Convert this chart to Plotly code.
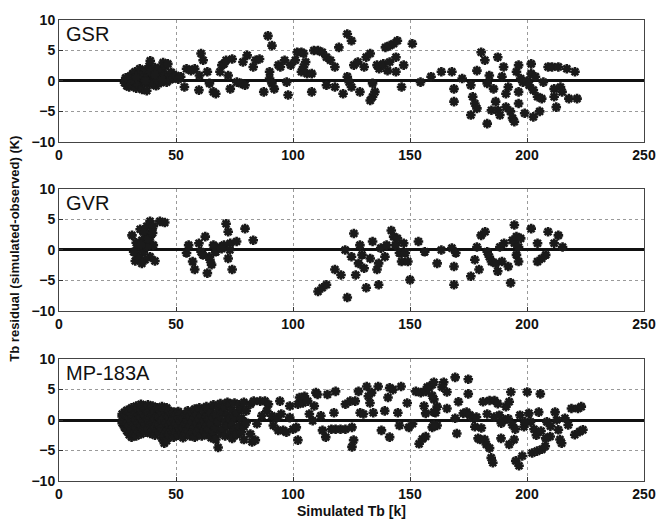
import plotly.graph_objects as go
from plotly.subplots import make_subplots

# ---------------- GSR residuals ----------------
gsr_x = [28, 28.5, 29, 29.5, 30, 30.5, 31, 31.5, 32, 32.5, 33, 33.5, 34, 34.5, 35, 35.5,
         36, 36.5, 37, 37.5, 38, 38.5, 39, 39.5, 40, 40.5, 41, 41.5, 42, 42.5, 43, 43.5,
         44, 44.5, 45, 45.5, 46, 46.5, 47, 47.5, 48, 49, 50, 51, 52,
         36, 38, 40, 42, 34, 33, 37, 39, 41, 44,
         53.6, 54.5, 56.4, 58, 60, 60.7, 61.6, 59.8, 63.4, 64.3, 66, 67, 68.8, 69.6,
         70.5, 71.4, 72.3, 73.2, 74, 76, 77.7, 78.6, 79.5, 80.4, 83, 84, 85.7, 87.5,
         89.3, 90, 90, 91, 91, 92, 93.8, 94.6, 96.4, 97.3, 97.9, 99, 101, 101.8,
         103.6, 104.5, 105.4, 103.6, 104.5, 106, 108, 108, 108.9, 110.7, 112.5,
         114.3, 114.3, 116, 117.9, 117.9, 119.6, 121.4, 123.2, 124, 123.2, 125, 125,
         126, 127.7, 128.6, 130.4, 131.3, 133, 134, 135, 134, 133, 135.9, 136.8,
         138.6, 139.5, 140.4, 141.3, 141.3, 143, 144, 144, 144.6, 146.4, 147.3, 151,
         154.5, 159, 163.4, 167.9, 168.8, 168.8, 172.3, 176, 176, 176.8, 177.7,
         178.6, 178.6, 180.4, 182, 183, 183, 183.9, 184.8, 185.7, 186.6, 187.5,
         188.4, 187.5, 189.3, 190, 191, 192, 191, 192.9, 193.8, 194.6, 195.5,
         196.4, 196.4, 196.4, 197.3, 198.2, 199, 200, 200.9, 201.8, 201.8, 202.7,
         202.7, 203.6, 204.5, 205.4, 206.3, 207, 209, 210.7, 211.6, 211.6, 212.5,
         213.4, 214.3, 215, 217, 217.9, 220.5, 221.4]
gsr_y = [-0.3, 0.5, -0.8, 0.2, -1.0, 0.8, -0.5, 1.2, 0.0, 1.5, -1.2, 0.6, -0.6, 2.0, 0.3, -1.4,
         1.0, -0.2, 1.8, -1.6, 0.7, 2.4, 3.3, -0.5, 1.3, 0.2, 2.2, -0.8, 1.0, 2.0, 0.4, -0.3,
         1.6, 3.0, 0.8, 2.4, -0.2, 2.8, 1.0, 0.2, 1.4, 0.5, 0.9, 0.3, 0.7,
         0.5, -0.3, -0.4, 0.2, 1.0, 0.6, 0.0, 1.5, 1.0, 0.2,
         -1.0, 2.0, 1.7, 2.0, 0.9, 4.5, 3.4, -1.5, 1.5, -0.4, -1.8, -2.1, 1.5, 2.6,
         2.8, 3.4, 0.9, -1.3, 3.6, -0.2, -0.4, 3.1, -0.7, 4.2, 2.3, 3.4, 3.6, -1.8,
         7.4, 1.5, 0.4, -0.4, 5.8, -1.3, 2.6, 2.3, 3.4, -0.2, -2.3, 2.6, 3.4, 4.7,
         4.7, 4.5, 3.1, 1.5, 2.3, 1.2, 1.2, -1.8, 5.0, 5.0, 4.7,
         3.9, -0.7, 3.4, 2.3, -1.0, 5.5, -2.1, 0.7, -0.2, 7.7, 6.6, -1.0,
         2.6, 3.1, -1.8, 2.3, 3.9, 4.5, -2.6, -1.8, -0.4, -3.2, 2.6, 2.0,
         2.8, 5.5, 1.7, 3.1, 5.8, 6.1, 3.9, 1.5, 6.6, -1.0, 2.6, 6.1,
         -0.2, 0.7, 1.5, 1.5, -1.3, -3.4, 0.4, -0.7, -5.6, -2.6, -3.7,
         -4.5, 1.7, 4.7, 3.4, -7.0, -0.4, 0.9, -4.8, -1.3, -3.4, -4.8,
         -5.6, 3.9, 0.7, 2.3, -2.1, -1.0, -4.3, -5.0, -6.1, -6.7, 1.5,
         2.6, -1.8, -3.7, 0.4, -0.2, -5.3, 0.0, -0.7, 1.2, 2.8, -1.5,
         -5.9, 0.7, -2.6, -5.0, -2.9, -0.2, 2.3, 2.3, -1.3, -2.6, -4.3,
         2.3, -1.0, -1.8, 2.0, -2.9, 1.5, -2.9]

# ---------------- GVR residuals ----------------
gvr_x = [31.2, 32.6, 33.3, 34, 34.7, 35.4, 36.1, 36.8, 37.5, 38.2, 38.9, 39.6, 40.3,
         41, 40.3, 43.1, 45.2, 38.9, 34, 31.9, 36.8, 35.4, 33, 37.5, 39, 35, 38, 40, 36,
         54.5, 55.4, 57.1, 58, 59.8, 60.7, 62.5, 63.4, 64.3, 65.2, 66, 67, 68.8, 70.5,
         71.4, 72.3, 72.3, 73.2, 74, 75.9, 79.5, 83, 73, 61.5, 69.5, 64.5,
         110.7, 112.5, 114.3, 117.9, 120.5, 122.3, 123.2, 126, 125, 126.8, 128, 128.6,
         129.5, 130.4, 131.3, 133, 134, 135.9, 136.6, 136.6, 137.5, 139.3, 140, 142,
         143, 143.8, 144.6, 145.5, 146.4, 147.3, 148, 149.1, 150, 153.6, 156.3,
         161.6, 163.4, 167.9, 168.8, 168.8, 169.6, 176, 177.7, 178.6, 179.5, 180.4,
         182.1, 183, 183.9, 184.8, 186.6, 187.5, 188.4, 189.3, 190.2, 192, 193, 193.8,
         194.6, 194.6, 195.5, 195.5, 196.4, 197.3, 196.4, 201.8, 204.5, 204.5, 206.3,
         208, 209, 211.6, 213.4, 215.2]
gvr_y = [2.4, -1.8, -0.8, 0.5, 3.4, 1.6, -0.3, 2.6, 3.9, 1.1, 4.7, 3.2, 0.8,
         -1.8, 3.9, 4.7, 4.5, -1.1, -1.3, -0.3, -1.6, -2.2, 1.2, 0.6, 2.2, 0.9, 1.8, 2.8, 3.0,
         -0.5, 0.8, -1.9, -3.2, 1.1, -0.3, 2.2, -3.8, -1.1, -2.4, 0.8, -0.3, 0.5, 0.8,
         4.3, 3.0, -1.4, 1.1, -3.2, 1.4, 3.5, 1.6, 0.0, -0.8, 0.2, -1.6,
         -6.8, -6.2, -5.7, -3.2, -4.1, 0.0, -7.8, 2.7, -1.1, -4.1, -2.2, 0.8,
         -0.8, -3.0, -6.2, -1.4, 1.4, -3.2, -5.7, -2.2, 0.3, -1.1, 0.8, 3.2,
         2.2, 0.8, 1.9, -0.5, -1.9, 1.1, -0.5, -1.9, -4.9, 1.4, -0.3,
         -2.2, 0.0, 0.3, -2.7, -5.7, -0.5, -4.3, -1.6, 0.5, -3.2, 2.4,
         3.0, -0.3, -1.1, -1.9, -2.2, -3.5, 0.5, -1.9, 1.1, -2.7, -5.4, 1.6,
         4.1, 1.1, 2.2, -0.8, 0.5, 1.9, -1.9, 3.5, 1.1, -1.9, -1.4,
         -0.8, 3.0, 1.1, 2.4, 0.5]

# ---------------- MP-183A residuals ----------------
mp_x = [27, 27, 27,
        28, 28, 28, 28,
        29, 29, 29, 29,
        30, 30, 30, 30,
        31, 31, 31, 31, 31,
        32, 32, 32, 32,
        33, 33, 33, 33, 33,
        34, 34, 34, 34,
        35, 35, 35, 35, 35,
        36, 36, 36, 36,
        37, 37, 37, 37,
        38, 38, 38, 38,
        39, 39, 39, 39,
        40, 40, 40, 40,
        41, 41, 41, 41,
        42, 42, 42, 42,
        43, 43, 43, 43,
        44, 44, 44, 44, 44,
        45, 45, 45, 45, 45,
        46, 46, 46, 46, 46,
        47, 47, 47, 47,
        48, 48, 48,
        49, 49, 49, 49,
        50, 50, 50,
        51, 51, 51, 51,
        52, 52, 52,
        53, 53, 53,
        54, 54, 54,
        55, 55, 55,
        56, 56, 56,
        57, 57, 57,
        58, 58, 58, 58,
        59, 59, 59,
        60, 60, 60,
        61, 61, 61,
        62, 62, 62,
        63, 63, 63, 63,
        64, 64, 64,
        65, 65, 65,
        66, 66, 66,
        67, 67, 67,
        68, 68, 68,
        69, 69, 69,
        70, 70,
        71, 71, 71,
        72, 72, 72,
        73, 73, 73,
        74, 74, 74,
        75, 75, 75,
        76, 76,
        77, 77,
        78, 78, 78,
        79, 79, 79,
        80, 80,
        81.8, 83.2, 82.5, 83.9, 86, 88, 89.5, 88.8, 86.7, 84.6, 81.8, 90.9, 91.6, 93,
        94.4, 93.7, 95, 95.8, 97.2, 98.6, 98.6, 100, 101.4, 102.1, 102.1, 102.8, 104.2,
        104.9, 106.3, 107, 108.4, 109.1, 109.8, 110.5, 111.9, 112.6, 114, 114.7, 116.4,
        118.2, 117.5, 118.2, 120.3, 122.4, 122.4, 124.5, 125.2, 125.9, 125.2, 126.6,
        128, 128.7, 130.1, 131.5, 132.2, 132.9, 133.6, 134.3, 136.4, 137.8, 139.2,
        140.6, 141.3, 141.3, 142.7, 144.8, 146.2, 145.5, 148.8, 149.5, 151.1, 152.5,
        153.9, 155.3, 154.6, 156.7, 156, 158.1, 159.5, 160.2, 160.9, 159.5, 161.6,
        157.4, 160.2, 164.4, 169.3, 174.9, 174.9, 165.8, 163.7, 159.5, 161.6, 160.2,
        156.7, 160.2, 156.7, 165.8, 169.3, 170, 170.7, 172.8, 174.2, 175.6, 177,
        178.4, 177.7, 179.1, 180.5, 181.2, 181.9, 182.6, 184, 184, 184.7, 185.4,
        186.1, 187.5, 188.2, 188.9, 190.3, 191, 192.4, 193.1, 193.8, 194.5, 195.2,
        196.6, 198, 198.7, 200.1, 200.8, 201.5, 202.2, 204.3, 205, 205.7, 206.4,
        207.8, 208.5, 209.9, 212, 212.7, 213.4, 214.1, 214.8, 216.2, 217.6, 219,
        220.4, 221.8, 223.2, 222.5, 223.9,
        186, 189, 192, 195, 197, 199, 203, 204, 206, 208, 210, 180, 192.4, 183]
mp_y = [-0.5, 0.6, 1.0,
        -1.2, 0.2, 1.3, -0.3,
        -1.8, -0.6, 0.8, 1.6,
        -2.4, -1.0, 0.3, 1.4,
        -2.8, -1.5, -0.2, 1.0, 2.0,
        -2.2, -0.8, 0.5, 1.7,
        -2.6, -1.3, 0.0, 1.2, 2.3,
        -1.9, -0.5, 0.9, 2.0,
        -2.3, -1.0, 0.4, 1.6, 2.6,
        -1.6, -0.2, 1.1, 2.2,
        -2.0, -0.7, 0.6, 1.9,
        -1.4, 0.1, 1.4, 2.5,
        -2.2, -0.9, 0.3, 1.7,
        -1.7, -0.4, 0.9, 2.3,
        -2.5, -1.1, 0.2, 1.5,
        -1.8, -0.6, 0.7, 2.0,
        -2.1, -0.8, 0.5, 1.8,
        -3.0, -1.4, -0.1, 1.2, 2.2,
        -3.8, -2.6, -1.0, 0.4, 1.6,
        -3.4, -1.9, -0.5, 0.9, 2.0,
        -2.4, -0.8, 0.6, 1.5,
        -1.6, -0.3, 1.1,
        -2.8, -1.2, 0.2, 1.3,
        -2.0, -0.7, 0.8,
        -2.5, -1.0, 0.4, 1.4,
        -1.7, -0.2, 1.0,
        -2.9, -1.3, 0.3,
        -2.2, -0.6, 0.9,
        -1.5, 0.0, 1.5,
        -2.6, -1.0, 0.6,
        -1.9, -0.3, 1.3,
        -2.8, -1.2, 0.4, 1.8,
        -2.0, -0.5, 1.0,
        -1.4, 0.2, 2.0,
        -2.6, -0.9, 0.7,
        -1.8, -0.2, 1.5,
        -2.4, -1.1, 0.5, 2.2,
        -1.5, 0.1, 1.8,
        -2.9, -0.6, 1.2,
        -2.0, 0.4, 2.5,
        -3.2, -1.3, 0.9,
        -4.5, -0.3, 1.9,
        -2.2, 0.6, 2.7,
        -1.4, 1.3,
        -2.6, -0.4, 2.1,
        -1.0, 0.9, 2.9,
        -2.2, 0.2, 2.4,
        -3.0, -0.8, 1.6,
        -1.6, 0.5, 2.8,
        -2.4, 1.2,
        -0.9, 2.5,
        -2.0, 0.3, 1.8,
        -3.2, -1.1, 2.9,
        -0.4, 1.5,
        2.6, 3.1, -3.6, -3.3, 3.1, 3.1, 2.6, 1.5, 0.7, -0.6, -2.3, 0.7, -0.9, 0.4,
        3.1, -1.7, 1.0, -1.7, -2.0, 2.3, 0.4, -1.5, -1.2, -3.3, 2.6, 3.7, 2.8,
        3.9, 3.1, 1.0, -0.1, 2.3, 4.5, 4.2, 0.7, -1.7, -2.8, 4.2, -1.5,
        4.7, 1.2, -1.5, -1.5, -1.5, 2.6, 3.1, -1.2, -3.3, -4.4, 3.1,
        4.7, 1.2, 1.0, 5.5, 3.9, 2.8, 4.5, 1.2, 5.5, -1.7, 1.5,
        3.7, -2.8, 5.3, 5.0, 1.2, 5.5, -0.9, 2.8, -1.2, -0.6, 4.7,
        -3.9, -3.1, 4.5, 4.7, 2.3, 5.3, 5.8, 3.4, 1.2, -1.2, -0.9,
        5.4, 6.2, 6.2, 7.0, 6.7, 4.3, 4.6, 5.4, 4.0, 2.2, 1.3,
        1.1, -0.8, -2.7, 1.9, 0.3, -2.2, 3.0, 1.1, 1.3, 0.8, 0.3,
        0.5, -1.1, -3.0, -1.3, 3.0, -3.2, -4.0, -4.6, 3.2, -6.2, -7.0,
        3.2, 2.7, 0.8, -3.0, 0.0, 2.2, 3.0, 4.6, -0.8, -3.2, -6.7,
        -7.5, -5.9, -1.1, 4.6, 1.1, -0.3, -5.4, -5.1, 1.3, 4.3, -4.8,
        -4.3, -0.3, -2.7, 1.3, 0.0, -1.6, -3.2, -3.8, 0.3, -0.8, 1.9,
        -2.4, 1.9, 2.2, -1.9, -1.6,
        0.5, -0.5, 0.2, -1.5, 0.8, -0.3, -1.5, -2.5, -1.8, -3.0, -1.0, -3.2, -4.0, 1.0]

panel_names = ["GSR", "GVR", "MP-183A"]
x_ticks = [0, 50, 100, 150, 200, 250]
y_ticks = [-10, -5, 0, 5, 10]

series = [(gsr_x, gsr_y), (gvr_x, gvr_y), (mp_x, mp_y)]
domains = [[0.7356, 1.0], [0.3689, 0.6333], [0.0, 0.2644]]

fig = make_subplots(rows=3, cols=1, shared_xaxes=False, vertical_spacing=0.1)

font_family = "Liberation Sans, Arial, sans-serif"
tick_font = dict(family=font_family, size=14, color="#111", weight="bold")

for i, (xs, ys) in enumerate(series):
    row = i + 1
    fig.add_trace(go.Scatter(
        x=xs, y=ys, mode="markers",
        marker=dict(symbol="asterisk-open", size=8, color="#1a1a1a",
                    line=dict(color="#1a1a1a", width=2.6)),
        showlegend=False, hoverinfo="skip"), row=row, col=1)
    fig.update_xaxes(range=[0, 250], tickvals=x_ticks, ticks="inside", ticklen=4,
                     tickcolor="#333", showline=True, mirror=True, linecolor="#444",
                     linewidth=1, showgrid=True, gridcolor="#9a9a9a", griddash="dot",
                     gridwidth=1, zeroline=False, tickfont=tick_font,
                     row=row, col=1)
    fig.update_yaxes(range=[-10, 10], tickvals=y_ticks, ticks="inside", ticklen=4,
                     tickcolor="#333", showline=True, mirror=True, linecolor="#444",
                     linewidth=1, showgrid=True, gridcolor="#9a9a9a", griddash="dot",
                     gridwidth=1, zeroline=True, zerolinecolor="#111", zerolinewidth=2.5,
                     tickfont=tick_font, domain=domains[i],
                     row=row, col=1)
    suffix = "" if i == 0 else str(row)
    fig.add_annotation(text=panel_names[i], xref=f"x{suffix} domain", yref=f"y{suffix} domain",
                       x=0.008, y=0.99, xanchor="left", yanchor="top", showarrow=False,
                       font=dict(family=font_family, size=20, color="#111"))

fig.add_annotation(text="Tb residual (simulated-observed) (K)", xref="paper", yref="paper",
                   x=-0.076, y=0.503, textangle=-90, showarrow=False,
                   xanchor="center", yanchor="middle",
                   font=dict(family=font_family, size=13, color="#111", weight="bold"))
fig.add_annotation(text="Simulated Tb [k]", xref="paper", yref="paper",
                   x=0.5, y=-0.066, showarrow=False, xanchor="center", yanchor="middle",
                   font=dict(family=font_family, size=14, color="#111", weight="bold"))

fig.update_layout(width=668, height=527, margin=dict(l=59, r=14, t=12, b=46),
                  paper_bgcolor="white", plot_bgcolor="white")

fig.write_html("out.html")
